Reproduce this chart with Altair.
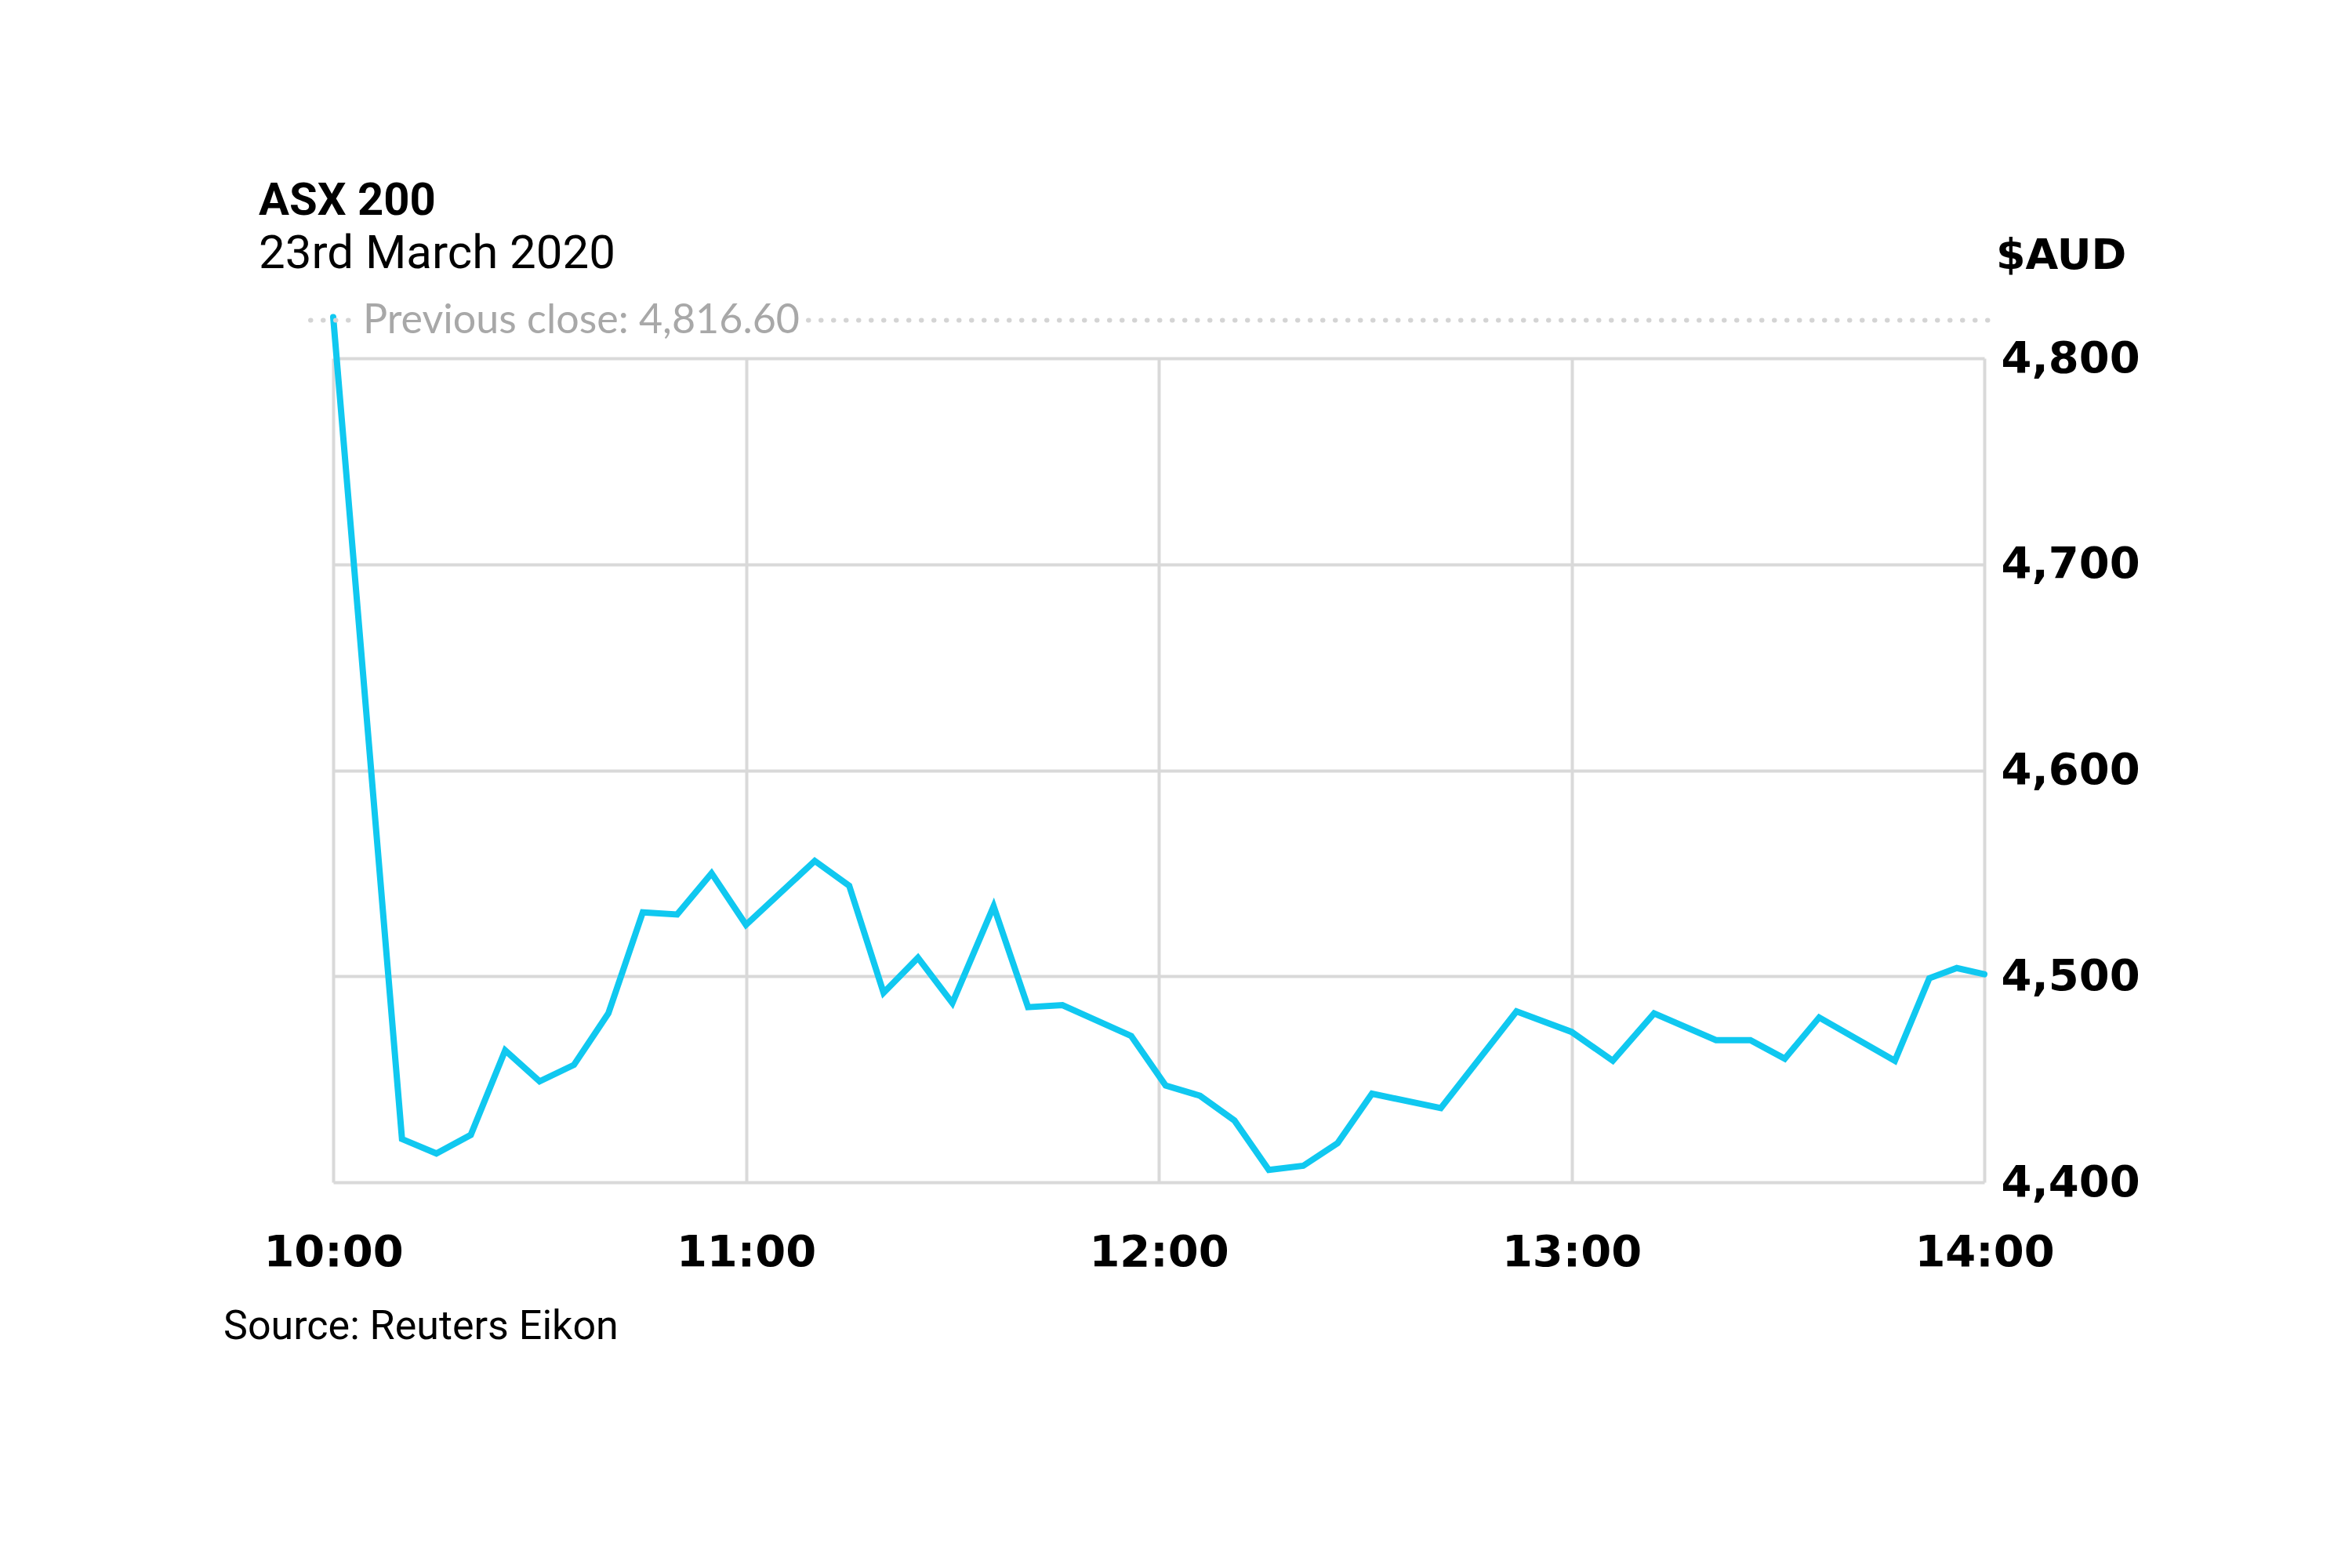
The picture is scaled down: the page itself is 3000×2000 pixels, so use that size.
import altair as alt
import pandas as pd

# ---- data ----
times = ["10:00", "10:10", "10:15", "10:20", "10:25", "10:30", "10:35", "10:40",
         "10:45", "10:50", "10:55", "11:00", "11:10", "11:15", "11:20", "11:25",
         "11:30", "11:36", "11:41", "11:46", "11:56", "12:01", "12:06", "12:11",
         "12:16", "12:21", "12:26", "12:31", "12:41", "12:52", "13:00", "13:06",
         "13:12", "13:21", "13:26", "13:31", "13:36", "13:47", "13:52", "13:56",
         "14:00"]
values = [4820, 4421, 4414, 4423, 4464, 4449, 4457, 4482,
          4531, 4530, 4550, 4525, 4556, 4544, 4492, 4509,
          4487, 4534, 4485, 4486, 4471, 4447, 4442, 4430,
          4406, 4408, 4419, 4443, 4436, 4483, 4473, 4459,
          4482, 4469, 4469, 4460, 4480, 4459, 4499, 4504,
          4501]

x_tick_labels = ["10:00", "11:00", "12:00", "13:00", "14:00"]
y_ticks = [4400, 4500, 4600, 4700, 4800]
prev_close = 4816.60
prev_close_label = ["Previous close: 4,816.60"]
title_text = ["ASX 200"]
subtitle_text = ["23rd March 2020"]
unit_text = ["$AUD"]
source_text = ["Source: Reuters Eikon"]


def to_min(t):
    h, m = t.split(":")
    return (int(h) - 10) * 60 + int(m)


df = pd.DataFrame({"t": [to_min(t) for t in times], "v": values})
x_tick_vals = [to_min(t) for t in x_tick_labels]

label_expr = "''"
for val, lab in zip(reversed(x_tick_vals), reversed(x_tick_labels)):
    label_expr = f"datum.value == {val} ? '{lab}' : ({label_expr})"

W, H = 2106, 1051
LINE = "#10c8f0"
GRID = "#d9d9d9"

x_enc = alt.X("t:Q", scale=alt.Scale(domain=[0, 240], nice=False),
              axis=alt.Axis(values=x_tick_vals, labelExpr=label_expr, title=None,
                            grid=True, gridColor=GRID, gridWidth=4, domain=False,
                            ticks=False, tickSize=0, labelPadding=106,
                            labelBaseline="alphabetic", labelFlush=False,
                            labelOverlap=False, labelFont="DejaVu Sans",
                            labelFontWeight="bold", labelFontSize=56,
                            labelColor="#000000"))
y_enc = alt.Y("v:Q", scale=alt.Scale(domain=[4400, 4800], nice=False, zero=False),
              axis=alt.Axis(values=y_ticks, format=",.0f", orient="right", title=None,
                            grid=True, gridColor=GRID, gridWidth=4, domain=False,
                            ticks=False, tickSize=0, labelPadding=21,
                            labelAlign="left", labelBaseline="middle",
                            labelFont="DejaVu Sans", labelFontWeight="bold",
                            labelFontSize=56, labelColor="#000000"))

line = alt.Chart(df).mark_line(color=LINE, strokeWidth=8, strokeCap="round",
                               strokeJoin="miter").encode(x=x_enc, y=y_enc)

pc_df = pd.DataFrame({"v": [prev_close]})
dots_left = alt.Chart(pc_df).mark_rule(color="#d4d4d4", strokeWidth=6, yOffset=-5,
                                       strokeDash=[0.5, 15.5], strokeCap="round").encode(
    x=alt.value(-29), x2=alt.value(25), y=alt.Y("v:Q"))
dots_right = alt.Chart(pc_df).mark_rule(color="#d4d4d4", strokeWidth=6, yOffset=-5,
                                        strokeDash=[0.5, 15.5], strokeCap="round").encode(
    x=alt.value(606), x2=alt.value(2120), y=alt.Y("v:Q"))
pc_text = alt.Chart(pd.DataFrame({"v": [prev_close], "s": prev_close_label})).mark_text(
    align="left", baseline="middle", font="Lato", fontSize=52, color="#a8a8a8",
    dy=-4).encode(x=alt.value(38), y=alt.Y("v:Q"), text="s:N")


def label(texts, x, y, font, size, weight="normal"):
    return alt.Chart(pd.DataFrame({"s": texts})).mark_text(
        align="left", baseline="alphabetic", font=font, fontSize=size,
        fontWeight=weight, color="#000000").encode(
        x=alt.value(x), y=alt.value(y), text="s:N")


title = label(title_text, -95, -183, "Roboto", 58, "bold")
subtitle = label(subtitle_text, -95, -115, "Roboto", 60)
unit = label(unit_text, 2121, -114, "DejaVu Sans", 54, "bold")
source = label(source_text, -140, 1251, "Roboto", 52)

chart = alt.layer(line, dots_left, dots_right, pc_text, title, subtitle, unit, source).properties(
    width=W, height=H,
    autosize=alt.AutoSizeParams(type="none"),
    padding={"left": 417, "top": 449, "right": 450, "bottom": 470},
    background="#ffffff",
).configure_view(strokeWidth=0)

chart.save("out.html", embed_options={"renderer": "svg", "actions": False})
